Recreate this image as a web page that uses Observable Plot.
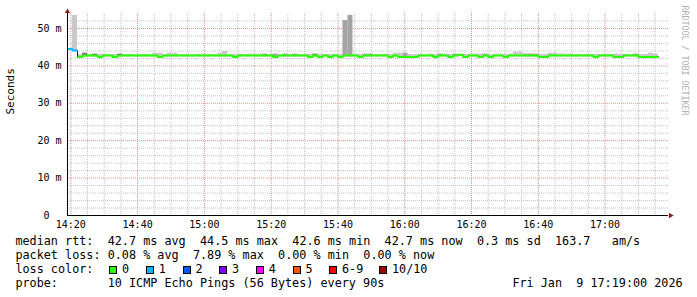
<!DOCTYPE html>
<html><head><meta charset="utf-8">
<script src="https://cdn.jsdelivr.net/npm/d3@7"></script>
<script src="https://cdn.jsdelivr.net/npm/@observablehq/plot@0.6"></script>
<style>
body{margin:0;background:#fff;}
#wrap{position:relative;width:697px;height:297px;background:#fff;overflow:hidden;}
#chart svg{display:block;}
#legend{position:absolute;left:0;top:232px;width:697px;height:65px;font-family:"DejaVu Sans Mono",monospace;font-size:11.79px;color:#000;}
#legend span{position:absolute;white-space:pre;line-height:14px;}
#legend .box{position:absolute;width:6px;height:6px;border:1px solid #000;}
</style></head>
<body><div id="wrap"><div id="chart"></div><div id="legend"></div></div>
<script>
// ---------- data ----------
const startTime = "2026-01-09T14:19:00Z";
const endTime = "2026-01-09T17:19:00Z";
const stepSeconds = 90;

// median rtt per 90 s step (ms)
const median = [
  44.5, 44.1, 42.4, 42.75, 42.75, 42.75, 42.4, 42.75, 42.75, 42.4,
  42.75, 42.75, 42.75, 42.75, 42.75, 42.75, 42.75, 42.75, 42.4, 42.75,
  42.75, 42.75, 42.75, 42.75, 42.75, 42.75, 42.75, 42.75, 42.75, 42.75,
  42.75, 42.75, 42.75, 42.4, 42.75, 42.75, 42.75, 42.75, 42.75, 42.75,
  42.75, 42.4, 42.75, 42.75, 42.75, 42.75, 42.75, 42.75, 42.4, 42.75,
  42.4, 42.75, 42.4, 42.75, 42.4, 42.75, 42.75, 42.75, 42.4, 42.75,
  42.75, 42.75, 42.75, 42.75, 42.4, 42.75, 42.4, 42.4, 42.4, 42.4,
  42.75, 42.75, 42.75, 42.4, 42.75, 42.75, 42.4, 42.75, 42.95, 42.4,
  42.75, 42.75, 42.4, 42.75, 42.4, 42.75, 42.75, 42.4, 42.75, 42.75,
  42.75, 42.75, 42.75, 42.75, 42.4, 42.4, 42.75, 42.75, 42.75, 42.75,
  42.75, 42.75, 42.75, 42.75, 42.75, 42.4, 42.75, 42.75, 42.75, 42.4,
  42.4, 42.75, 42.75, 42.75, 42.4, 42.4, 42.4, 42.4
];
// top of the smoke (slowest ping) per step (ms); null = no smoke
const smokeTop = [
  null, 53.5, 43.05, 43.4, 43.05, 43.15, 43.05, 43.05, 43.05, 43.05,
  43.15, 43.05, 43.05, 43.05, 43.05, 43.05, 43.05, 43.4, 43.4, 43.05,
  43.4, 43.4, 43.05, 43.05, 43.05, 43.05, 43.15, 43.15, 43.05, 43.05,
  43.4, 43.85, 43.05, 43.05, 43.15, 43.05, 43.15, 43.15, 43.15, 43.15,
  43.05, 43.15, 43.05, 43.15, 43.05, 43.15, 43.05, 43.05, 43.05, 43.15,
  43.05, 43.05, 43.05, 43.05, 43.05, 52.1, 53.5, 43.15, 43.05, 43.15,
  43.15, 43.05, 43.05, 43.15, 43.05, 43.4, 43.4, 43.4, 43.05, 43.05,
  43.05, 43.05, 43.15, 43.05, 43.15, 43.15, 43.05, 43.15, 43.05, 43.05,
  43.15, 43.15, 43.15, 43.15, 43.05, 43.05, 43.15, 43.05, 43.15, 43.7,
  43.7, 43.15, 43.15, 43.15, 43.05, 43.05, 43.4, 43.4, 43.15, 43.15,
  43.15, 43.05, 43.05, 43.05, 43.05, 43.05, 43.05, 43.05, 43.05, 43.15,
  43.05, 43.05, 43.05, 43.15, 43.05, 43.05, 43.4, 43.15
];
// smoke density: l = light, m = medium, d = dark
const smokeShade = [
  "l","l","l","d","l","d","l","l","l","l",
  "d","l","l","l","l","l","l","l","l","l",
  "l","l","l","l","l","l","l","l","l","l",
  "l","l","l","l","l","l","l","l","l","m",
  "l","m","l","m","l","m","l","l","l","d",
  "l","l","l","l","l","m","m","l","l","m",
  "m","l","l","l","l","l","l","m","l","l",
  "l","l","l","l","m","l","l","m","l","l",
  "l","l","l","m","l","l","l","l","l","l",
  "l","m","m","m","l","l","l","l","l","l",
  "l","l","l","l","l","l","l","l","l","l",
  "l","l","l","m","l","l","l","l"
];
// lost pings (of 10) per step
const lossCount = [
  1, 1, 0, 0, 0, 0, 0, 0, 0, 0,
  0, 0, 0, 0, 0, 0, 0, 0, 0, 0,
  0, 0, 0, 0, 0, 0, 0, 0, 0, 0,
  0, 0, 0, 0, 0, 0, 0, 0, 0, 0,
  0, 0, 0, 0, 0, 0, 0, 0, 0, 0,
  0, 0, 0, 0, 0, 0, 0, 0, 0, 0,
  0, 0, 0, 0, 0, 0, 0, 0, 0, 0,
  0, 0, 0, 0, 0, 0, 0, 0, 0, 0,
  0, 0, 0, 0, 0, 0, 0, 0, 0, 0,
  0, 0, 0, 0, 0, 0, 0, 0, 0, 0,
  0, 0, 0, 0, 0, 0, 0, 0, 0, 0,
  0, 0, 0, 0, 0, 0, 0, 0
];

const yDomain = [0, 54];
const yMajorTicks = [0, 10, 20, 30, 40, 50];
const lossLabels = ["0", "1", "2", "3", "4", "5", "6-9", "10/10"];
const lossColors = ["#26ff00", "#00b8ff", "#0059ff", "#7e00ff", "#ff00ff", "#ff5500", "#ff0000", "#a10000"];
const shadeColors = {l: "#c9c9c9", m: "#a4a4a4", d: "#7e7e7e"};

const medianStats = ["median rtt:", "42.7 ms avg", "44.5 ms max", "42.6 ms min", "42.7 ms now", "0.3 ms sd", "163.7", "am/s"];
const lossStats = ["packet loss:", "0.08 % avg", "7.89 % max", "0.00 % min", "0.00 % now"];
const lossColorTitle = "loss color:";
const probeRow = ["probe:", "10 ICMP Echo Pings (56 Bytes) every 90s", "Fri Jan  9 17:19:00 2026"];
const yLabel = "Seconds";
const watermark = "RRDTOOL / TOBI OETIKER";

// ---------- derived ----------
const t0 = new Date(startTime), tEnd = new Date(endTime);
const steps = median.map((m, i) => ({
  t0: new Date(t0.getTime() + i * stepSeconds * 1000),
  t1: new Date(t0.getTime() + (i + 1) * stepSeconds * 1000),
  median: m, top: smokeTop[i], shade: smokeShade[i], loss: lossCount[i]
}));
const lossIndex = n => n <= 5 ? n : (n < 10 ? 6 : 7);

// step path points, split into runs of equal loss colour
const runPts = [];
let run = -1, prevLoss = null;
steps.forEach(d => {
  if (d.loss !== prevLoss) { run++; prevLoss = d.loss; }
  runPts.push({t: d.t0, v: d.median, run, color: lossColors[lossIndex(d.loss)]});
  runPts.push({t: d.t1, v: d.median, run, color: lossColors[lossIndex(d.loss)]});
});
const darkPts = steps.flatMap(d => [{t: d.t0, v: d.median}, {t: d.t1, v: d.median}]);

const minorX = d3.utcMinute.every(5).range(t0, tEnd).filter(d => d.getUTCMinutes() % 20 !== 0);
const majorX = d3.utcMinute.every(20).range(t0, tEnd);
const minorY = d3.range(2, yDomain[1], 2).filter(v => v % 10 !== 0);
const majorY = yMajorTicks.filter(v => v > 0);

const chart = Plot.plot({
  width: 697, height: 232,
  marginLeft: 67, marginRight: 29, marginTop: 13, marginBottom: 17,
  style: {fontFamily: "'DejaVu Sans Mono', monospace", background: "#fff", overflow: "visible"},
  x: {type: "utc", domain: [t0, tEnd]},
  y: {domain: yDomain},
  color: {type: "identity"},
  marks: [
    Plot.gridX(minorX, {stroke: "#c4c4c4", strokeOpacity: 1, strokeDasharray: "1,1"}),
    Plot.gridY(minorY, {stroke: "#c4c4c4", strokeOpacity: 1, strokeDasharray: "1,1"}),
    Plot.gridX(majorX, {stroke: "#e89090", strokeOpacity: 1, strokeDasharray: "1,1"}),
    Plot.gridY(majorY, {stroke: "#e89090", strokeOpacity: 1, strokeDasharray: "1,1"}),
    Plot.rect(steps.filter(d => d.top != null), {
      x1: "t0", x2: "t1", y1: d => d.median - 0.3, y2: "top",
      fill: d => shadeColors[d.shade]
    }),
    Plot.line(darkPts, {x: "t", y: "v", stroke: "#202020", strokeWidth: 1, curve: "linear"}),
    Plot.line(runPts, {x: "t", y: "v", z: "run", stroke: "color", strokeWidth: 2, strokeLinecap: "butt", strokeLinejoin: "miter"}),
    Plot.ruleY([yDomain[0]], {stroke: "#000", strokeWidth: 1}),
    Plot.ruleX([t0], {stroke: "#000", strokeWidth: 1}),
    Plot.axisX(majorX, {tickFormat: d3.utcFormat("%H:%M"), tickSize: 0, tickPadding: 5, fontSize: 10, label: null}),
    Plot.axisY(yMajorTicks, {tickFormat: d => d === 0 ? "0\u00a0\u00a0" : d + " m", tickSize: 0, tickPadding: 6, fontSize: 10, label: null}),
    Plot.dot([0], {frameAnchor: "top-left", symbol: "triangle", r: 2, fill: "#8a1c1c", stroke: "none", dy: -2}),
    Plot.dot([0], {frameAnchor: "bottom-right", symbol: "triangle", r: 2, fill: "#8a1c1c", stroke: "none", rotate: 90, dx: 2}),
    Plot.text([yLabel], {text: d => d, frameAnchor: "left", dx: -57, rotate: -90, fontSize: 11, fill: "#000"}),
    Plot.text([watermark], {text: d => d, frameAnchor: "top-right", dx: 19, dy: -8, rotate: 90, textAnchor: "start", fontSize: 8.3, fill: "#b0b0b0"})
  ]
});
document.getElementById("chart").appendChild(chart);

// ---------- legend (below the svg), laid out on a monospace column grid ----------
const legend = document.getElementById("legend");
const colW = 7.1, colX0 = 15.4;
const colLeft = c => colX0 + c * colW;
function put(text, left, top) {
  const s = document.createElement("span");
  s.textContent = text; s.style.left = left + "px"; s.style.top = top + "px";
  legend.appendChild(s);
}
[0, 13, 26, 39, 52, 65, 76, 84].forEach((c, i) => put(medianStats[i], colLeft(c), 2));
[0, 13, 25, 37, 49].forEach((c, i) => put(lossStats[i], colLeft(c), 16));
put(lossColorTitle, colLeft(0), 30);
const boxX = [109.3, 146, 182.7, 219.3, 256, 292.7, 329.3, 379.3];
lossLabels.forEach((lab, i) => {
  const b = document.createElement("div");
  b.className = "box"; b.style.left = boxX[i] + "px"; b.style.top = "33.5px";
  b.style.background = lossColors[i];
  legend.appendChild(b);
  put(lab, boxX[i] + 12.7, 30);
});
[0, 13, 70].forEach((c, i) => put(probeRow[i], colLeft(c), 44));
</script>
</body></html>
